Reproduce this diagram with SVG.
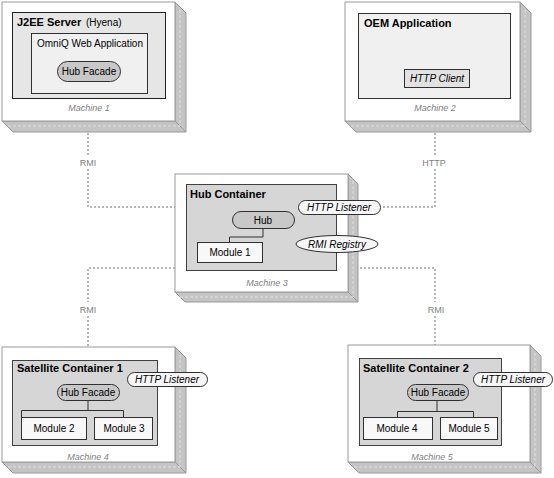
<svg xmlns="http://www.w3.org/2000/svg" width="554" height="478" viewBox="0 0 554 478">
<style>
.front{fill:#ffffff;stroke:#9a9a9a;stroke-width:1}
.side{fill:#c4c4c4;stroke:#9a9a9a;stroke-width:1}
.sidedash{fill:none;stroke:#e0e0e0;stroke-width:1;stroke-dasharray:3 2}
.cont{fill:#d6d6d6;stroke:#404040;stroke-width:1}
.cont2{fill:#e6e6e6;stroke:#202020;stroke-width:1}
.light{fill:#f0f0f0;stroke:#303030;stroke-width:1}
.pillg{fill:#c8c8c8;stroke:#303030;stroke-width:1}
.pilll{fill:#f6f6f6;stroke:#303030;stroke-width:1}
.mod{fill:#f8f8f8;stroke:#303030;stroke-width:1}
.client{fill:#e2e2e2;stroke:#303030;stroke-width:1}
.link{fill:none;stroke:#303030;stroke-width:1}
.dot{fill:none;stroke:#707070;stroke-width:1;stroke-dasharray:2 2}
text{font-family:"Liberation Sans",Arial,sans-serif;fill:#000}
.title{font-size:11px;font-weight:bold}
.norm{font-size:10px}
.it{font-size:10px;font-style:italic}
.mach{font-size:9px;font-style:italic;fill:#808080;text-anchor:middle}
.lbl{font-size:9px;fill:#808080;text-anchor:middle}
.c{text-anchor:middle}
</style>

<g id="connectors">
<path class="dot" d="M88,121 V155 M88,169 V207 H175"/>
<path class="dot" d="M435,121 V155 M435,169 V207 H381"/>
<path class="dot" d="M175,268 H88 V302 M88,316 V347"/>
<path class="dot" d="M348,268 H435 V302 M435,316 V345"/>
<text class="lbl" x="88" y="166">RMI</text>
<text class="lbl" x="434" y="166">HTTP</text>
<text class="lbl" x="88" y="313">RMI</text>
<text class="lbl" x="436" y="313">RMI</text>
</g>

<g id="machine1">
<polygon class="side" points="175,2 186,13 186,132 175,121"/>
<polygon class="side" points="2,121 175,121 186,132 13,132"/>
<path class="sidedash" d="M180,10 V126 M8,126 H180"/>
<rect class="front" x="2" y="2" width="173" height="119"/>
<rect class="cont2" x="12.5" y="12.5" width="153" height="86"/>
<text class="title" x="17" y="26">J2EE Server</text>
<text class="norm" x="86" y="26">(Hyena)</text>
<rect class="light" x="31.5" y="33.5" width="116" height="60"/>
<text class="norm" x="37" y="47">OmniQ Web Application</text>
<rect class="pillg" x="57.5" y="61.5" width="63" height="20" rx="10"/>
<text class="norm c" x="89" y="75">Hub Facade</text>
<text class="mach" x="89" y="111">Machine 1</text>
</g>

<g id="machine2">
<polygon class="side" points="520,2 531,13 531,132 520,121"/>
<polygon class="side" points="345,121 520,121 531,132 356,132"/>
<path class="sidedash" d="M525,10 V126 M351,126 H525"/>
<rect class="front" x="345" y="2" width="175" height="119"/>
<rect class="light" x="358.5" y="13.5" width="152" height="85"/>
<text class="title" x="364" y="27">OEM Application</text>
<rect class="client" x="404.5" y="69.5" width="65" height="18"/>
<text class="it c" x="437" y="82">HTTP Client</text>
<text class="mach" x="435" y="111">Machine 2</text>
</g>

<g id="machine3">
<polygon class="side" points="348,174 358,184 358,302 348,292"/>
<polygon class="side" points="175,292 348,292 358,302 185,302"/>
<path class="sidedash" d="M353,181 V297 M180,297 H353"/>
<rect class="front" x="175" y="174" width="173" height="118"/>
<rect class="cont" x="186.5" y="184.5" width="150" height="86"/>
<text class="title" x="190" y="198">Hub Container</text>
<path class="link" d="M263,228 V237 H229.5 V242"/>
<rect class="pillg" x="232.5" y="211.5" width="62" height="17" rx="8.5"/>
<text class="norm c" x="263" y="224">Hub</text>
<rect class="mod" x="197.5" y="242.5" width="65" height="20"/>
<text class="norm c" x="230" y="256">Module 1</text>
<rect class="pilll" x="298.5" y="200.5" width="82" height="14" rx="7"/>
<text class="it c" x="339" y="211">HTTP Listener</text>
<ellipse class="pilll" cx="337" cy="244" rx="41" ry="8.5"/>
<text class="it c" x="337" y="248">RMI Registry</text>
<text class="mach" x="267" y="286">Machine 3</text>
</g>

<g id="machine4">
<polygon class="side" points="175,347 186,358 186,473 175,462"/>
<polygon class="side" points="2,462 175,462 186,473 13,473"/>
<path class="sidedash" d="M180,355 V467 M8,467 H180"/>
<rect class="front" x="2" y="347" width="173" height="115"/>
<rect class="cont" x="12.5" y="360.5" width="145" height="85"/>
<text class="title" x="17" y="372">Satellite Container 1</text>
<path class="link" d="M88,400 V410.5 H21.5 V417 M88,410.5 H123.5 V417"/>
<rect class="pillg" x="57.5" y="384.5" width="62" height="16" rx="8"/>
<text class="norm c" x="88" y="396">Hub Facade</text>
<rect class="mod" x="21.5" y="417.5" width="65" height="22"/>
<text class="norm c" x="54" y="432">Module 2</text>
<rect class="mod" x="94.5" y="417.5" width="58" height="22"/>
<text class="norm c" x="124" y="432">Module 3</text>
<rect class="pilll" x="127.5" y="372.5" width="80" height="14" rx="7"/>
<text class="it c" x="167" y="383">HTTP Listener</text>
<text class="mach" x="88" y="460">Machine 4</text>
</g>

<g id="machine5">
<polygon class="side" points="530,345 541,356 541,473 530,462"/>
<polygon class="side" points="348,462 530,462 541,473 359,473"/>
<path class="sidedash" d="M535,353 V467 M354,467 H535"/>
<rect class="front" x="348" y="345" width="182" height="117"/>
<rect class="cont" x="359.5" y="358.5" width="142" height="87"/>
<text class="title" x="363" y="372">Satellite Container 2</text>
<path class="link" d="M437,400 V411.5 H397.5 V417 M437,411.5 H473.5 V417"/>
<rect class="pillg" x="407.5" y="384.5" width="61" height="16" rx="8"/>
<text class="norm c" x="438" y="396">Hub Facade</text>
<rect class="mod" x="363.5" y="417.5" width="69" height="22"/>
<text class="norm c" x="397" y="432">Module 4</text>
<rect class="mod" x="440.5" y="417.5" width="57" height="22"/>
<text class="norm c" x="469" y="432">Module 5</text>
<rect class="pilll" x="473.5" y="372.5" width="79" height="14" rx="7"/>
<text class="it c" x="513" y="383">HTTP Listener</text>
<text class="mach" x="432" y="460">Machine 5</text>
</g>
</svg>
